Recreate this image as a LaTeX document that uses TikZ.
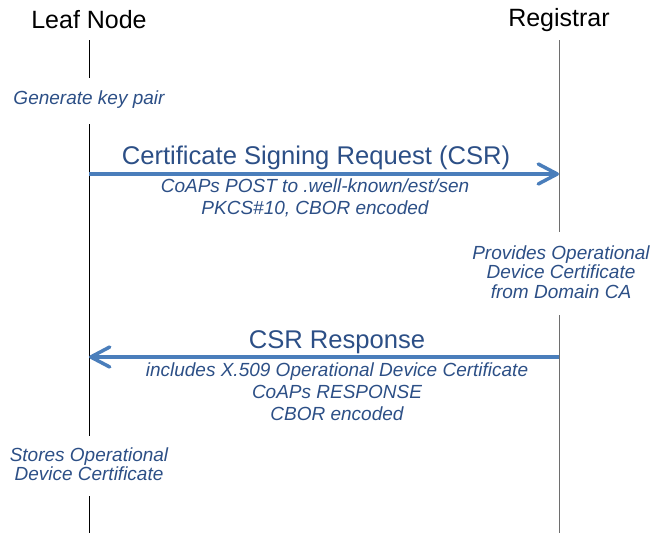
\documentclass[tikz,border=0pt]{standalone}
\usepackage{fontspec}
\setmainfont{Liberation Sans}
\usetikzlibrary{arrows.meta}
\definecolor{msgblue}{HTML}{4A7EBB}
\definecolor{txtblue}{HTML}{2C4F86}
\definecolor{lifegray}{HTML}{6E6E6E}
\tikzset{
  actor/.style={inner sep=0pt, font=\fontsize{25}{27}\selectfont, text=black},
  msgtitle/.style={inner sep=0pt, font=\fontsize{25.6}{27}\selectfont, text=txtblue},
  sublabel/.style={inner sep=0pt, align=center, text=txtblue,
    font=\fontsize{19}{21.8}\selectfont\itshape},
  note/.style={inner sep=0pt, align=center, text=txtblue,
    font=\fontsize{19}{19.5}\selectfont\itshape},
  lifeline/.style={line width=1pt},
  message/.style={draw=msgblue, line width=3.5pt,
    -{Straight Barb[length=19pt,width=20pt,line width=3.5pt,round]}},
}
\begin{document}
\begin{tikzpicture}[x=1pt,y=-1pt]
  \useasboundingbox (0,0) rectangle (654,533);

  % participants
  \node[actor] (leaf) at (89,20) {Leaf Node};
  \node[actor] (reg) at (559,20) {Registrar};

  % lifeline anchor points
  \coordinate (l0) at (89,40);
  \coordinate (l1) at (89,78);
  \coordinate (l2) at (89,124);
  \coordinate (l3) at (89,436);
  \coordinate (l4) at (89,496);
  \coordinate (l5) at (89,533);
  \coordinate (r0) at (559,40);
  \coordinate (r1) at (559,232);
  \coordinate (r2) at (559,315);
  \coordinate (r3) at (559,533);

  % local actions
  \node[note] (gen) at (89,100) {Generate key pair};
  \node[note] (prov) at (561,272) {Provides Operational\\Device Certificate\\from Domain CA};
  \node[note] (store) at (89,464) {Stores Operational\\Device Certificate};

  % lifelines
  \draw[lifeline] (l0) -- (l1);
  \draw[lifeline] (l2) -- (l3);
  \draw[lifeline] (l4) -- (l5);
  \draw[lifeline, lifegray] (r0) -- (r1);
  \draw[lifeline, lifegray] (r2) -- (r3);

  % request
  \coordinate (reqs) at (89,174);
  \coordinate (reqe) at (559,174);
  \draw[message] (reqs) -- (reqe);
  \node[msgtitle] (reqt) at (316,158) {Certificate Signing Request (CSR)};
  \node[sublabel] (reqsub) at (315,198) {CoAPs POST to .well-known/est/sen\\PKCS\#10, CBOR encoded};

  % response
  \coordinate (ress) at (559,357);
  \coordinate (rese) at (89,357);
  \draw[message] (ress) -- (rese);
  \node[msgtitle] (rest) at (337,342) {CSR Response};
  \node[sublabel] (ressub) at (337,392) {includes X.509 Operational Device Certificate\\CoAPs RESPONSE\\CBOR encoded};
\end{tikzpicture}
\end{document}
